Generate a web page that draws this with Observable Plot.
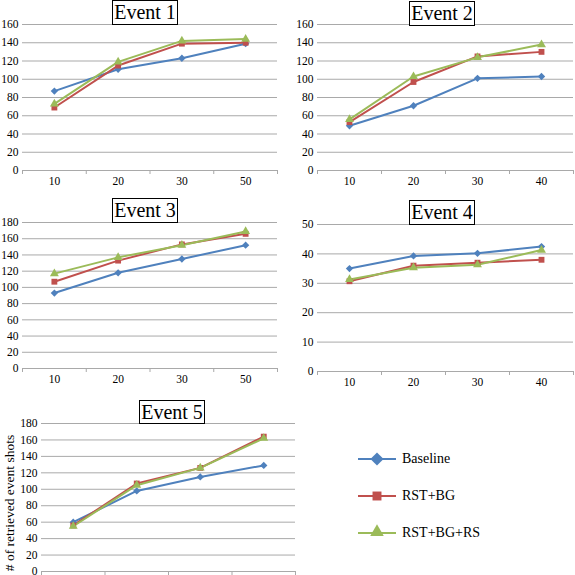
<!DOCTYPE html>
<html><head><meta charset="utf-8">
<script src="https://cdn.jsdelivr.net/npm/d3@7"></script>
<script src="https://cdn.jsdelivr.net/npm/@observablehq/plot@0.6"></script>
<style>
body{margin:0;background:#fff;}
#root{position:relative;width:575px;height:575px;overflow:hidden;font-family:"Liberation Serif","Times New Roman",serif;background:#fff;}
.panel{position:absolute;}
.title{position:absolute;border:1px solid #000;background:#fff;font-size:20px;text-align:center;box-sizing:border-box;color:#000;white-space:nowrap;font-family:"Liberation Serif","Times New Roman",serif;}
.legrow{position:absolute;display:flex;align-items:center;font-size:14px;color:#000;}
.ylab{position:absolute;font-size:13.5px;white-space:nowrap;transform:translate(-50%,-50%) rotate(-90deg);color:#000;}
</style></head><body><div id="root"></div>
<script>
const seriesNames = ["Baseline", "RST+BG", "RST+BG+RS"];
const seriesColors = ["#4F81BD", "#C0504D", "#9BBB59"];
const seriesSymbols = ["diamond2", "square", "triangle"];

const e1Labels = [10, 20, 30, 50];
const e1Baseline = [87, 111, 123, 139];
const e1RstBg = [69, 115, 139, 140];
const e1RstBgRs = [73, 119, 142, 144];
const e1Ticks = [0, 20, 40, 60, 80, 100, 120, 140, 160];

const e2Labels = [10, 20, 30, 40];
const e2Baseline = [49, 71, 101, 103];
const e2RstBg = [53, 97, 125, 130];
const e2RstBgRs = [56, 103, 124, 138];
const e2Ticks = [0, 20, 40, 60, 80, 100, 120, 140, 160];

const e3Labels = [10, 20, 30, 50];
const e3Baseline = [93, 118, 135, 152];
const e3RstBg = [107, 133, 153, 166];
const e3RstBgRs = [117, 137, 152, 169];
const e3Ticks = [0, 20, 40, 60, 80, 100, 120, 140, 160, 180];

const e4Labels = [10, 20, 30, 40];
const e4Baseline = [35, 39.3, 40.2, 42.5];
const e4RstBg = [30.7, 36, 37, 38];
const e4RstBgRs = [31.3, 35.3, 36.3, 41.3];
const e4Ticks = [0, 10, 20, 30, 40, 50];

const e5Labels = ["", "", "", ""];
const e5Baseline = [60, 98, 115, 129];
const e5RstBg = [56, 107, 126, 164];
const e5RstBgRs = [55, 105, 126, 162];
const e5Ticks = [0, 20, 40, 60, 80, 100, 120, 140, 160, 180];

const yAxisLabel = "# of retrieved event shots";

const panels = [
  {title: "Event 1", labels: e1Labels, series: [e1Baseline, e1RstBg, e1RstBgRs], ticks: e1Ticks,
   box: [0, 0, 285, 192, 24, 8, 22, 22], tbox: [112, 0, 66, 25]},
  {title: "Event 2", labels: e2Labels, series: [e2Baseline, e2RstBg, e2RstBgRs], ticks: e2Ticks,
   box: [285, 0, 290, 192, 24, 2, 22, 32], tbox: [409, 1, 66, 25]},
  {title: "Event 3", labels: e3Labels, series: [e3Baseline, e3RstBg, e3RstBgRs], ticks: e3Ticks,
   box: [0, 195, 285, 195, 27, 8, 22, 22], tbox: [112, 198, 66, 25]},
  {title: "Event 4", labels: e4Labels, series: [e4Baseline, e4RstBg, e4RstBgRs], ticks: e4Ticks,
   box: [285, 195, 290, 195, 29, 2, 19, 32], tbox: [409, 200, 66, 25]},
  {title: "Event 5", labels: e5Labels, series: [e5Baseline, e5RstBg, e5RstBgRs], ticks: e5Ticks,
   box: [0, 390, 300, 185, 33, 5, 4, 41], tbox: [139, 400, 66, 24]}
];

const root = document.getElementById("root");
const gridColor = "#a9a9a9";
const fontStack = "'Liberation Serif', 'Times New Roman', serif";

for (const p of panels) {
  const [left, top, width, height, mt, mr, mb, ml] = p.box;
  const rows = [];
  p.series.forEach((vals, s) => {
    vals.forEach((v, i) => rows.push({series: seriesNames[s], i: i + 0.5, v}));
  });
  const n = p.labels.length;
  const boundaries = d3.range(n + 1);
  const centers = d3.range(n).map(i => i + 0.5);
  const yMax = p.ticks[p.ticks.length - 1];
  const chart = Plot.plot({
    width, height,
    marginTop: mt, marginRight: mr, marginBottom: mb, marginLeft: ml,
    style: {fontFamily: fontStack, fontSize: "11.5px", background: "transparent", color: "#000", overflow: "visible"},
    x: {type: "linear", domain: [0, n], axis: null, label: null},
    y: {domain: [0, yMax], axis: null, label: null},
    color: {domain: seriesNames, range: seriesColors},
    symbol: {domain: seriesNames, range: seriesSymbols},
    marks: [
      Plot.gridY(p.ticks.filter(t => t > 0), {stroke: gridColor, strokeOpacity: 1, strokeWidth: 1}),
      Plot.ruleY([0], {stroke: gridColor, strokeWidth: 1}),
      Plot.axisY(p.ticks, {tickSize: 0, tickPadding: 4, fill: "#000", fontSize: 11.5, label: null}),
      Plot.axisX(boundaries, {tickSize: 4, tickFormat: () => "", stroke: gridColor, label: null}),
      Plot.axisX(centers, {tickSize: 0, tickPadding: 6, tickFormat: d => p.labels[Math.floor(d)], fill: "#000", fontSize: 11.5, label: null}),
      Plot.line(rows, {x: "i", y: "v", z: "series", stroke: "series", strokeWidth: 2}),
      Plot.dot(rows, {x: "i", y: "v", fill: "series", symbol: "series", r: 3.3, stroke: "none"})
    ]
  });
  chart.classList.add("panel");
  chart.style.left = left + "px";
  chart.style.top = top + "px";
  root.appendChild(chart);

  const t = document.createElement("div");
  t.className = "title";
  t.textContent = p.title;
  t.style.left = p.tbox[0] + "px";
  t.style.top = p.tbox[1] + "px";
  t.style.width = p.tbox[2] + "px";
  t.style.height = p.tbox[3] + "px";
  t.style.lineHeight = (p.tbox[3] - 2) + "px";
  root.appendChild(t);
}

// y-axis label for Event 5
const yl = document.createElement("div");
yl.className = "ylab";
yl.textContent = yAxisLabel;
yl.style.left = "10px";
yl.style.top = "503px";
root.appendChild(yl);

// Legend
const legendY = [459, 496, 533];
seriesNames.forEach((name, s) => {
  const row = document.createElement("div");
  row.className = "legrow";
  row.style.left = "358px";
  row.style.top = (legendY[s] - 8) + "px";
  row.style.height = "16px";
  const svg = d3.create("svg").attr("width", 38).attr("height", 16).style("overflow", "visible");
  svg.append("line").attr("x1", 0).attr("x2", 38).attr("y1", 8).attr("y2", 8)
    .attr("stroke", seriesColors[s]).attr("stroke-width", 2);
  const sym = [d3.symbolDiamond2, d3.symbolSquare, d3.symbolTriangle][s];
  svg.append("path").attr("d", d3.symbol(sym, s === 0 ? 110 : 80)())
    .attr("transform", `translate(19,${s === 2 ? 7 : 8})`).attr("fill", seriesColors[s]);
  row.appendChild(svg.node());
  const txt = document.createElement("span");
  txt.textContent = name;
  txt.style.marginLeft = "6px";
  row.appendChild(txt);
  root.appendChild(row);
});
</script>
</body></html>
